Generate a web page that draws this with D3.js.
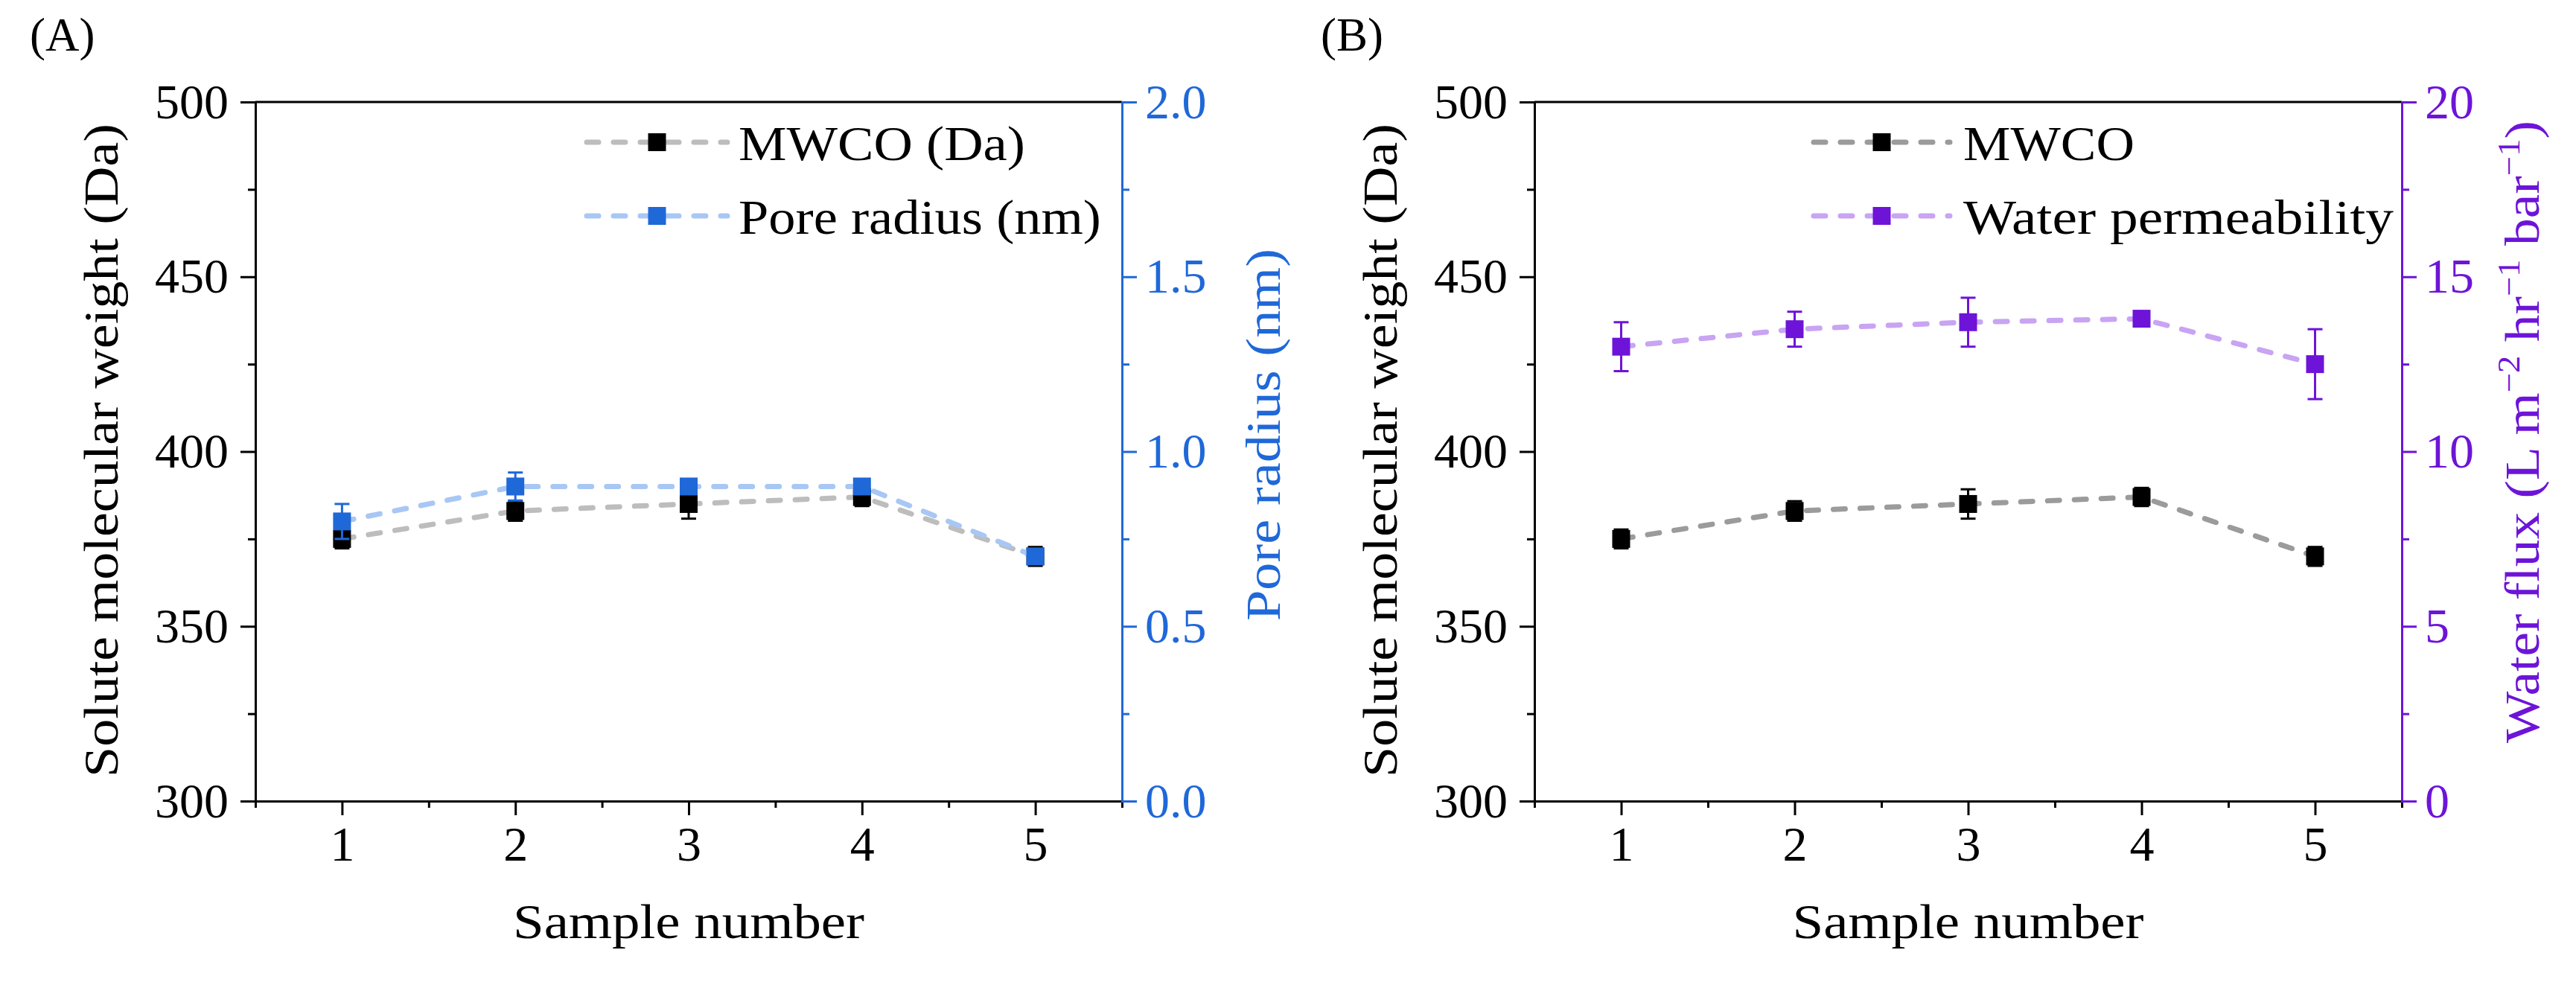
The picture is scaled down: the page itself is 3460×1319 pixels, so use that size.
<!DOCTYPE html>
<html>
<head>
<meta charset="utf-8">
<script src="https://cdn.jsdelivr.net/npm/d3@7"></script>
<style>
  html, body { margin: 0; padding: 0; background: #fff; }
  svg { display: block; }
</style>
</head>
<body>
<div id="chart"></div>
<script>
// values
const samples = [1, 2, 3, 4, 5];
const mwco = [375, 383, 385, 387, 370];
const mwcoErr = [2.7, 2.8, 4.2, 2.6, 2.7];
const poreRadius = [0.80, 0.90, 0.90, 0.90, 0.70];
const poreErr = [0.05, 0.04, 0.02, 0.02, 0.01];
const waterFlux = [13.0, 13.5, 13.7, 13.8, 12.5];
const fluxErr = [0.7, 0.5, 0.7, 0.2, 1.0];

// tick labels
const mwTicks = [300, 350, 400, 450, 500];
const mwMinor = [325, 375, 425, 475];
const poreTicks = [0.0, 0.5, 1.0, 1.5, 2.0];
const poreMinor = [0.25, 0.75, 1.25, 1.75];
const fluxTicks = [0, 5, 10, 15, 20];
const fluxMinor = [2.5, 7.5, 12.5, 17.5];
const sampleMinor = [0.5, 1.5, 2.5, 3.5, 4.5, 5.5];

const width = 3460;
const height = 1319;
const font = "'Liberation Serif', 'Times New Roman', serif";
const plotTop = 137;
const plotBottom = 1076;

const panels = [
    {
        label: "(A)", labelX: 40,
        x0: 343, x1: 1507,
        rightDomain: [0, 2], rightTicks: poreTicks, rightMinor: poreMinor,
        rightFormat: d3.format(".1f"), rightColor: "#1f68d8",
        rightTitle: [{ t: "Pore radius (nm)" }],
        rightTitleX: 1719, rightTitleY: 584, rightTitleLen: 500,
        legendX: [788, 977], legendText: 992,
        series: [
            { name: "MWCO (Da)", values: mwco, err: mwcoErr, axis: "left", marker: "#000", line: "#bdbdbd", textLen: 385 },
            { name: "Pore radius (nm)", values: poreRadius, err: poreErr, axis: "right", marker: "#1f68d8", line: "#a8c7f4", textLen: 487 }
        ]
    },
    {
        label: "(B)", labelX: 1774,
        x0: 2061, x1: 3226,
        rightDomain: [0, 20], rightTicks: fluxTicks, rightMinor: fluxMinor,
        rightFormat: d3.format("d"), rightColor: "#6d14d8",
        rightTitle: [
            { t: "Water flux (L m" }, { t: "\u22122", sup: true },
            { t: " hr" }, { t: "\u22121", sup: true },
            { t: " bar" }, { t: "\u22121", sup: true },
            { t: ")" }
        ],
        rightTitleX: 3410, rightTitleY: 580, rightTitleLen: 836,
        legendX: [2436, 2619], legendText: 2637,
        series: [
            { name: "MWCO", values: mwco, err: mwcoErr, axis: "left", marker: "#000", line: "#9b9b9b", textLen: 230 },
            { name: "Water permeability", values: waterFlux, err: fluxErr, axis: "right", marker: "#6d14d8", line: "#c8a4f3", textLen: 578 }
        ]
    }
];

const svg = d3.select("#chart")
    .append("svg")
    .attr("width", width)
    .attr("height", height)
    .attr("font-family", font);

svg.append("rect").attr("width", width).attr("height", height).attr("fill", "#fff");

function styleAxis(sel, color) {
    sel.attr("font-family", font).attr("font-size", 66);
    sel.select(".domain").attr("stroke", color).attr("stroke-width", 3).attr("stroke-linecap", "square");
    sel.selectAll(".tick line").attr("stroke", color).attr("stroke-width", 3);
    sel.selectAll(".tick text").attr("fill", color);
}

function drawPanel(p) {
    const x = d3.scaleLinear().domain([0.5, 5.5]).range([p.x0, p.x1]);
    const yL = d3.scaleLinear().domain([300, 500]).range([plotBottom, plotTop]);
    const yR = d3.scaleLinear().domain(p.rightDomain).range([plotBottom, plotTop]);
    const g = svg.append("g");

    // top frame
    g.append("line")
        .attr("x1", p.x0).attr("x2", p.x1)
        .attr("y1", plotTop).attr("y2", plotTop)
        .attr("stroke", "#000").attr("stroke-width", 3);

    // left axis
    g.append("g")
        .attr("transform", `translate(${p.x0},0)`)
        .call(d3.axisLeft(yL).tickValues(mwMinor).tickSize(10).tickSizeOuter(0).tickFormat(""))
        .call(styleAxis, "#000");
    g.append("g")
        .attr("transform", `translate(${p.x0},0)`)
        .call(d3.axisLeft(yL).tickValues(mwTicks).tickSize(20).tickSizeOuter(0).tickPadding(16))
        .call(styleAxis, "#000");

    // bottom axis
    g.append("g")
        .attr("transform", `translate(0,${plotBottom})`)
        .call(d3.axisBottom(x).tickValues(sampleMinor).tickSize(9).tickSizeOuter(0).tickFormat(""))
        .call(styleAxis, "#000");
    g.append("g")
        .attr("transform", `translate(0,${plotBottom})`)
        .call(d3.axisBottom(x).tickValues(samples).tickSize(19).tickSizeOuter(0).tickPadding(14).tickFormat(d3.format("d")))
        .call(styleAxis, "#000");

    // right axis
    g.append("g")
        .attr("transform", `translate(${p.x1},0)`)
        .call(d3.axisRight(yR).tickValues(p.rightMinor).tickSize(10).tickSizeOuter(0).tickFormat(""))
        .call(styleAxis, p.rightColor);
    g.append("g")
        .attr("transform", `translate(${p.x1},0)`)
        .call(d3.axisRight(yR).tickValues(p.rightTicks).tickSize(20).tickSizeOuter(0).tickPadding(11).tickFormat(p.rightFormat))
        .call(styleAxis, p.rightColor);

    // titles
    g.append("text")
        .attr("transform", `translate(${p.x0 - 185},605) rotate(-90)`)
        .attr("text-anchor", "middle")
        .attr("font-size", 66)
        .attr("textLength", 878)
        .attr("lengthAdjust", "spacingAndGlyphs")
        .text("Solute molecular weight (Da)");

    const rt = g.append("text")
        .attr("transform", `translate(${p.rightTitleX},${p.rightTitleY}) rotate(-90)`)
        .attr("text-anchor", "middle")
        .attr("font-size", 66)
        .attr("fill", p.rightColor)
        .attr("textLength", p.rightTitleLen)
        .attr("lengthAdjust", "spacingAndGlyphs");
    let raised = false;
    p.rightTitle.forEach(part => {
        const ts = rt.append("tspan").text(part.t);
        if (part.sup) {
            ts.attr("font-size", 42).attr("dy", -26);
            raised = true;
        } else if (raised) {
            ts.attr("dy", 26);
            raised = false;
        }
    });

    g.append("text")
        .attr("x", (p.x0 + p.x1) / 2)
        .attr("y", 1260)
        .attr("text-anchor", "middle")
        .attr("font-size", 66)
        .attr("textLength", 472)
        .attr("lengthAdjust", "spacingAndGlyphs")
        .text("Sample number");

    g.append("text")
        .attr("x", p.labelX)
        .attr("y", 68)
        .attr("font-size", 63)
        .text(p.label);

    // series
    p.series.forEach(s => {
        const y = s.axis === "left" ? yL : yR;
        const pts = samples.map((d, i) => ({ s: d, v: s.values[i], e: s.err[i] }));

        g.append("path")
            .datum(pts)
            .attr("fill", "none")
            .attr("stroke", s.line)
            .attr("stroke-width", 7)
            .attr("stroke-dasharray", "16 20")
            .attr("stroke-linecap", "round")
            .attr("d", d3.line().x(d => x(d.s)).y(d => y(d.v)));

        const eb = g.append("g")
            .attr("stroke", s.marker)
            .attr("stroke-width", 3)
            .selectAll("g")
            .data(pts)
            .join("g");
        eb.append("line")
            .attr("x1", d => x(d.s)).attr("x2", d => x(d.s))
            .attr("y1", d => y(d.v - d.e)).attr("y2", d => y(d.v + d.e));
        eb.append("line")
            .attr("x1", d => x(d.s) - 10).attr("x2", d => x(d.s) + 10)
            .attr("y1", d => y(d.v + d.e)).attr("y2", d => y(d.v + d.e));
        eb.append("line")
            .attr("x1", d => x(d.s) - 10).attr("x2", d => x(d.s) + 10)
            .attr("y1", d => y(d.v - d.e)).attr("y2", d => y(d.v - d.e));

        g.append("g")
            .selectAll("rect")
            .data(pts)
            .join("rect")
            .attr("x", d => x(d.s) - 12)
            .attr("y", d => y(d.v) - 12)
            .attr("width", 24)
            .attr("height", 24)
            .attr("fill", s.marker);
    });

    // legend
    p.series.forEach((s, i) => {
        const ly = 191 + i * 99;
        const mid = (p.legendX[0] + p.legendX[1]) / 2;
        g.append("line")
            .attr("x1", p.legendX[0]).attr("x2", p.legendX[1])
            .attr("y1", ly).attr("y2", ly)
            .attr("stroke", s.line)
            .attr("stroke-width", 7)
            .attr("stroke-dasharray", "16 20")
            .attr("stroke-linecap", "round");
        g.append("rect")
            .attr("x", mid - 12).attr("y", ly - 12)
            .attr("width", 24).attr("height", 24)
            .attr("fill", s.marker);
        g.append("text")
            .attr("x", p.legendText)
            .attr("y", ly + 24)
            .attr("font-size", 66)
            .attr("textLength", s.textLen)
            .attr("lengthAdjust", "spacingAndGlyphs")
            .text(s.name);
    });
}

panels.forEach(drawPanel);
</script>
</body>
</html>
